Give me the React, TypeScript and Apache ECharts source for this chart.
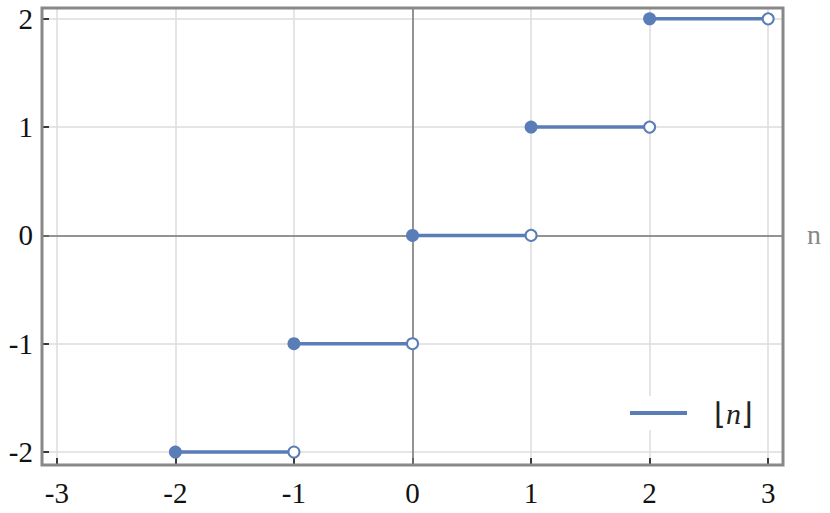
import React, { useEffect, useRef } from "react";
import * as echarts from "echarts";

const steps = [-2, -1, 0, 1, 2];
const xRange = [-3.125, 3.125];
const yRange = [-2.12, 2.1];
const xTickRange = [-3, 3];
const yTickRange = [-2, 2];
const seriesName = "⌊n⌋";
const blue = "#5a7db8";

const W = 830;
const H = 513;
const G = { left: 42, right: 47, top: 8, bottom: 48 };

export default function App() {
  const ref = useRef<HTMLDivElement>(null);
  useEffect(() => {
    const chart = echarts.init(ref.current!, undefined, { renderer: "svg" });
    const font = "Liberation Serif";
    const pw = W - G.left - G.right;
    const ph = H - G.top - G.bottom;
    const sx = pw / (xRange[1] - xRange[0]);
    const sy = ph / (yRange[1] - yRange[0]);
    const g1 = {
      left: G.left + (xTickRange[0] - xRange[0]) * sx,
      right: G.right + (xRange[1] - xTickRange[1]) * sx,
      top: G.top,
      bottom: G.bottom,
    };
    const g2 = {
      left: G.left,
      right: G.right,
      top: G.top + (yRange[1] - yTickRange[1]) * sy,
      bottom: G.bottom + (yTickRange[0] - yRange[0]) * sy,
    };
    const tick = {
      show: true,
      inside: true,
      length: 7,
      lineStyle: { color: "#000", width: 1.5 },
    };
    const label = { fontFamily: font, fontSize: 29, color: "#111" };
    const split = { show: true, lineStyle: { color: "#ddd", width: 1.5 } };
    const hidden = {
      type: "value",
      min: 0,
      max: 1,
      show: false,
      splitLine: { show: false },
      axisTick: { show: false },
      axisLabel: { show: false },
      axisLine: { show: false },
    };
    const lineSeries = steps.map((k, i) => ({
      type: "line",
      name: seriesName,
      xAxisIndex: 0,
      yAxisIndex: 0,
      data: [[k, k], [k + 1, k]],
      showSymbol: false,
      symbol: "none",
      lineStyle: { color: blue, width: 3.5 },
      itemStyle: { color: blue },
      z: 3,
      ...(i === 0
        ? {
            markLine: {
              silent: true,
              symbol: "none",
              lineStyle: { color: "#777", width: 1.5, type: "solid" },
              label: { show: false },
              z: 1,
              data: [{ xAxis: 0 }, { yAxis: 0 }],
            },
          }
        : {}),
    }));
    chart.setOption({
      animation: false,
      textStyle: { fontFamily: font },
      grid: [
        { ...G, show: true, borderColor: "#888", borderWidth: 3, backgroundColor: "transparent", z: 4 },
        { ...g1, show: false },
        { ...g2, show: false },
      ],
      legend: {
        data: [seriesName],
        left: 622,
        top: 396,
        backgroundColor: "#fff",
        padding: [2, 10, 2, 8],
        itemWidth: 57,
        itemHeight: 4,
        itemGap: 0,
        icon: "rect",
        textStyle: {
          fontFamily: font,
          fontSize: 30,
          color: "#222",
          padding: [0, 0, 0, 22],
          rich: {
            b: { fontFamily: font, fontSize: 30, fontStyle: "italic", color: "#222" },
          },
        },
        formatter: () => "⌊{b|n}⌋",
      },
      graphic: [
        {
          type: "text",
          left: W - G.right + 24,
          top: G.top + (yRange[1] - 0) * sy - 15,
          style: { text: "n", fill: "#888", font: `28px ${font}` },
        },
      ],
      xAxis: [
        {
          type: "value",
          gridIndex: 0,
          min: xRange[0],
          max: xRange[1],
          axisLine: { show: false, onZero: false },
          axisTick: { show: false },
          axisLabel: { show: false },
          splitLine: { show: false },
        },
        {
          type: "value",
          gridIndex: 1,
          min: xTickRange[0],
          max: xTickRange[1],
          interval: 1,
          position: "bottom",
          axisLine: { show: false, onZero: false },
          axisTick: tick,
          axisLabel: { ...label, margin: 13 },
          splitLine: split,
        },
        { ...hidden, gridIndex: 2 },
      ],
      yAxis: [
        {
          type: "value",
          gridIndex: 0,
          min: yRange[0],
          max: yRange[1],
          axisLine: { show: false, onZero: false },
          axisTick: { show: false },
          axisLabel: { show: false },
          splitLine: { show: false },
        },
        { ...hidden, gridIndex: 1 },
        {
          type: "value",
          gridIndex: 2,
          min: yTickRange[0],
          max: yTickRange[1],
          interval: 1,
          position: "left",
          axisLine: { show: false, onZero: false },
          axisTick: tick,
          axisLabel: { ...label, margin: 9 },
          splitLine: split,
        },
      ],
      series: [
        ...lineSeries,
        {
          type: "scatter",
          name: "closed",
          xAxisIndex: 0,
          yAxisIndex: 0,
          data: steps.map((k) => [k, k]),
          symbol: "circle",
          symbolSize: 13,
          itemStyle: { color: blue, opacity: 1 },
          z: 4,
        },
        {
          type: "scatter",
          name: "open",
          xAxisIndex: 0,
          yAxisIndex: 0,
          data: steps.map((k) => [k + 1, k]),
          symbol: "circle",
          symbolSize: 11,
          itemStyle: { color: "#fff", borderColor: blue, borderWidth: 2, opacity: 1 },
          z: 5,
        },
      ],
    });
    return () => chart.dispose();
  }, []);
  return <div ref={ref} style={{ width: W, height: H, position: "absolute", left: 0, top: 0 }} />;
}
